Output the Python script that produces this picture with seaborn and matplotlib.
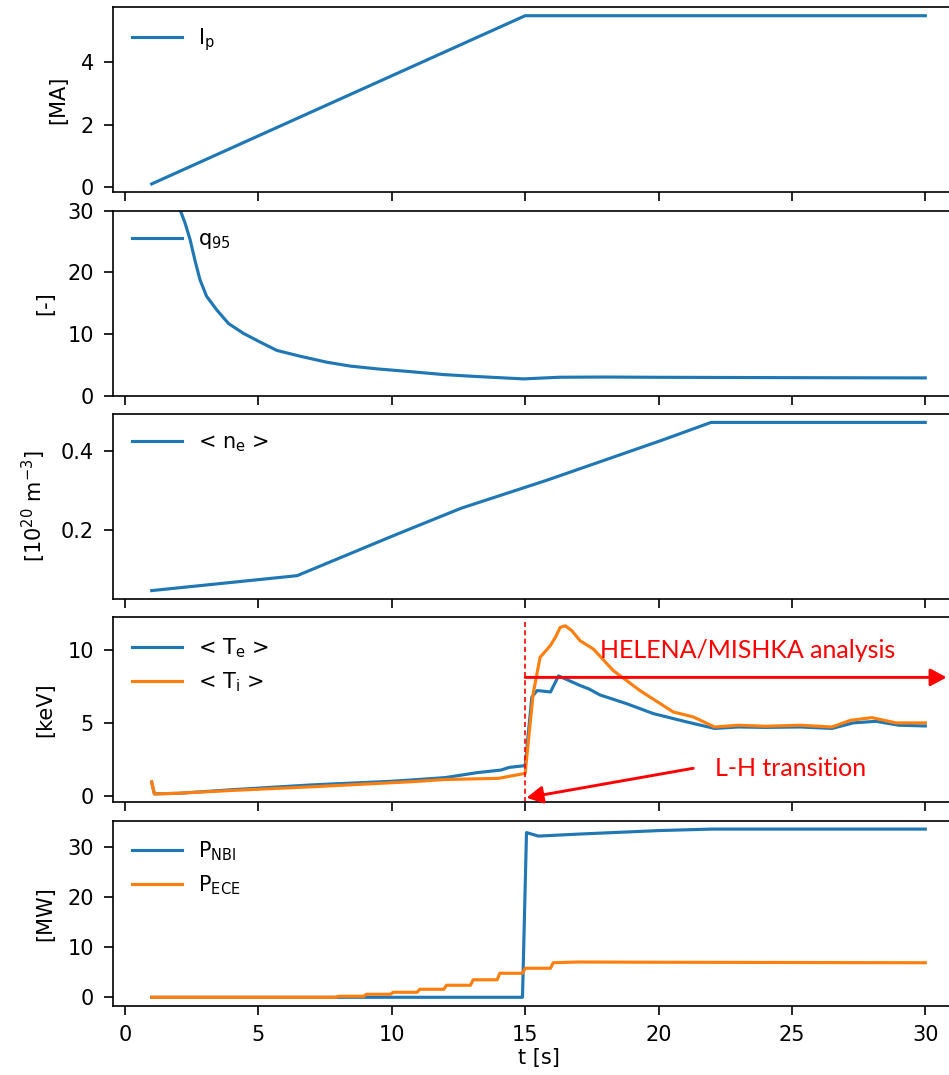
"""Scenario overview: plasma current, q95, density, temperatures and heating power."""

import matplotlib

matplotlib.use("Agg")

import matplotlib.pyplot as plt
import pandas as pd
import seaborn as sns

# plasma current [MA]
t_ip = [1.0, 15.0, 30.0]
ip = [0.1, 5.5, 5.5]

# safety factor q95 [-]
t_q95 = [1.0, 1.5, 2.06, 2.25, 2.44, 2.63, 2.81, 3.06, 3.44, 3.88, 4.44, 5.06, 5.69, 6.56, 7.56, 8.44,
         9.44, 10.69, 11.94, 13.2, 14.94, 16.3, 18.0, 20.0, 25.0, 30.0]
q95 = [150.0, 55.0, 30.2, 28.0, 25.3, 21.8, 18.8, 16.1, 13.9, 11.7, 10.1, 8.7, 7.34, 6.4, 5.43, 4.8,
       4.35, 3.9, 3.42, 3.1, 2.72, 2.99, 3.02, 2.98, 2.92, 2.88]

# line averaged density [1e20 m^-3]
t_ne = [1.0, 2.0, 6.45, 10.14, 12.6, 15.82, 20.1, 21.97, 30.0]
ne = [0.045, 0.052, 0.083, 0.187, 0.2546, 0.326, 0.427, 0.473, 0.473]

# electron / ion temperature [keV]
t_te = [1.0, 1.1, 2.0, 4.0, 7.0, 10.0, 10.75, 12.0, 13.2, 14.1, 14.4, 15.0, 15.25, 15.45, 15.95, 16.25,
        16.5, 17.05, 17.4, 17.8, 18.8, 19.8, 21.05, 22.1, 23.0, 24.0, 25.3, 26.5, 27.3, 28.15, 29.0, 30.0]
te = [0.9, 0.12, 0.15, 0.4, 0.73, 0.98, 1.07, 1.23, 1.57, 1.75, 1.93, 2.05, 6.75, 7.2, 7.1, 8.2,
      8.0, 7.55, 7.3, 6.9, 6.3, 5.62, 5.05, 4.6, 4.7, 4.67, 4.7, 4.6, 4.98, 5.09, 4.82, 4.77]
t_ti = [1.0, 1.1, 2.0, 4.0, 7.0, 10.75, 12.0, 14.0, 15.0, 15.3, 15.56, 15.94, 16.15, 16.31, 16.5, 16.75,
        17.06, 17.56, 18.3, 19.3, 20.55, 21.3, 22.1, 23.0, 24.0, 25.3, 26.5, 27.2, 28.0, 28.9, 30.0]
ti = [0.95, 0.11, 0.16, 0.35, 0.6, 0.95, 1.1, 1.18, 1.52, 6.98, 9.48, 10.27, 10.9, 11.52, 11.64, 11.3,
      10.61, 10.04, 8.57, 7.2, 5.73, 5.39, 4.7, 4.82, 4.75, 4.82, 4.7, 5.16, 5.34, 4.98, 4.98]

# heating power [MW]
t_nbi = [1.0, 14.9, 15.05, 15.5, 17.0, 20.0, 22.0, 30.0]
p_nbi = [0.0, 0.0, 32.9, 32.2, 32.6, 33.3, 33.6, 33.6]
t_ece = [1.0, 7.9, 8.0, 8.95, 9.05, 9.95, 10.05, 10.95, 11.05, 11.95, 12.05, 12.95, 13.05, 13.95, 14.05,
         14.9, 15.0, 15.95, 16.05, 17.0, 20.0, 25.0, 30.0]
p_ece = [0.0, 0.0, 0.2, 0.2, 0.6, 0.6, 1.0, 1.0, 1.6, 1.6, 2.4, 2.4, 3.5, 3.5, 4.8,
         4.8, 5.8, 5.8, 6.9, 7.05, 7.0, 6.95, 6.9]

BLUE = "#1f77b4"
ORANGE = "#ff7f0e"
RED = "#ff0000"

plt.rcParams["font.family"] = ["DejaVu Sans"]
plt.rcParams["font.size"] = 10
plt.rcParams["xtick.major.size"] = 4.3
plt.rcParams["ytick.major.size"] = 4.3
plt.rcParams["xtick.major.pad"] = 4.8
plt.rcParams["ytick.major.pad"] = 4.8
plt.rcParams["axes.labelpad"] = 6.0


def _line(ax, t, y, label, color):
    df = pd.DataFrame({"t": t, "y": y})
    sns.lineplot(data=df, x="t", y="y", ax=ax, label=label, color=color,
                 estimator=None, sort=False, linewidth=1.5)
    ax.set_xlabel("")


fig, axes = plt.subplots(5, 1, sharex=True, figsize=(949 / 150, 1075 / 150), dpi=150)
fig.subplots_adjust(left=113 / 949, right=964 / 949, top=1 - 7.3 / 1075,
                    bottom=1 - 1005.7 / 1075, hspace=0.099)

ax1, ax2, ax3, ax4, ax5 = axes

_line(ax1, t_ip, ip, r"I$_\mathrm{p}$", BLUE)
ax1.set_ylabel("[MA]")

_line(ax2, t_q95, q95, r"q$_{95}$", BLUE)
ax2.set_ylim(0, 30)
ax2.set_ylabel("[-]")

_line(ax3, t_ne, ne, r"< n$_\mathrm{e}$ >", BLUE)
ax3.set_ylabel(r"[10$^{20}$ m$^{-3}$]")

_line(ax4, t_te, te, r"< T$_\mathrm{e}$ >", BLUE)
_line(ax4, t_ti, ti, r"< T$_\mathrm{i}$ >", ORANGE)
ax4.set_ylabel("[keV]")

_line(ax5, t_nbi, p_nbi, r"P$_\mathrm{NBI}$", BLUE)
_line(ax5, t_ece, p_ece, r"P$_\mathrm{ECE}$", ORANGE)
ax5.set_ylabel("[MW]")
ax5.set_xlabel("t [s]", labelpad=1.5)
ax5.set_xticks([0, 5, 10, 15, 20, 25, 30])

for ax in axes:
    ax.legend(loc="upper left", frameon=False, handlelength=2.4)

# annotations added on top of the temperature panel
ax4.axvline(15, ymin=0.0, ymax=0.98, color=RED, linestyle=(0, (3, 2)), linewidth=0.8)
ax4.annotate("", xy=(30.8, 8.1), xytext=(15.0, 8.1), annotation_clip=False,
             arrowprops=dict(arrowstyle="-|>,head_length=0.65,head_width=0.35",
                             color=RED, lw=1.4, shrinkA=0, shrinkB=0))
ax4.annotate("", xy=(15.05, -0.15), xytext=(21.3, 1.87), annotation_clip=False,
             arrowprops=dict(arrowstyle="-|>,head_length=0.65,head_width=0.35",
                             color=RED, lw=1.4, shrinkA=0, shrinkB=0))
ax4.text(17.8, 9.95, "HELENA/MISHKA analysis", color=RED, fontsize=12,
         family=["Lato", "DejaVu Sans"], va="center", ha="left")
ax4.text(22.1, 1.85, "L-H transition", color=RED, fontsize=12,
         family=["Lato", "DejaVu Sans"], va="center", ha="left")

fig.savefig("out.png", dpi=150)
